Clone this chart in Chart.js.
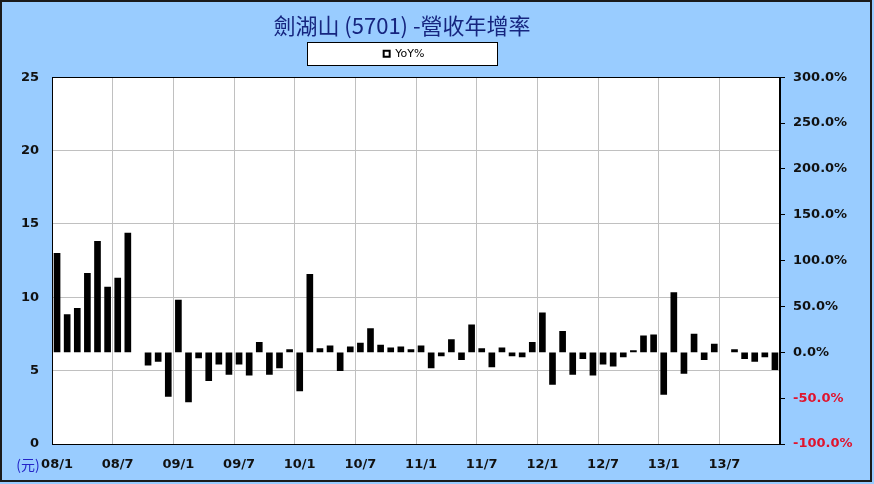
<!DOCTYPE html>
<html>
<head>
<meta charset="utf-8">
<script src="https://cdn.jsdelivr.net/npm/chart.js@4/dist/chart.umd.min.js"></script>
<style>
  html, body { margin: 0; padding: 0; background: #ffffff; }
  canvas { display: block; }
</style>
</head>
<body>
<canvas id="c" width="874" height="484"></canvas>
<script>
// ---- data ----
const months = [
  '08/1','08/2','08/3','08/4','08/5','08/6','08/7','08/8','08/9','08/10','08/11','08/12',
  '09/1','09/2','09/3','09/4','09/5','09/6','09/7','09/8','09/9','09/10','09/11','09/12',
  '10/1','10/2','10/3','10/4','10/5','10/6','10/7','10/8','10/9','10/10','10/11','10/12',
  '11/1','11/2','11/3','11/4','11/5','11/6','11/7','11/8','11/9','11/10','11/11','11/12',
  '12/1','12/2','12/3','12/4','12/5','12/6','12/7','12/8','12/9','12/10','12/11','12/12',
  '13/1','13/2','13/3','13/4','13/5','13/6','13/7','13/8','13/9','13/10','13/11','13/12'
];
// YoY % (right axis)
const yoy = [
  108, 41, 48, 86, 121, 71, 81, 130, null, -14, -10, -48,
  57, -54, -6, -31, -13, -24, -13, -25, 11, -24, -17, 3,
  -42, 85, 4, 7, -20, 6, 10, 26, 8, 5, 6, 3,
  7, -17, -4, 14, -8, 30, 4, -16, 5, -4, -5, 11,
  43, -35, 23, -24, -7, -25, -13, -15, -5, 2, 18, 19,
  -46, 65, -23, 20, -8, 9, null, 3, -7, -10, -5, -19
];
const leftTicks = [0, 5, 10, 15, 20, 25];
const rightTicks = [-100, -50, 0, 50, 100, 150, 200, 250, 300];
const titleText = '劍湖山 (5701) -營收年增率';
const seriesName = 'YoY%';
const unitText = '(元)';

const decor = {
  id: 'decor',
  afterLayout(chart) {
    if (chart.titleBlock) { chart.titleBlock.left = 0; chart.titleBlock.right = 804; }
    if (chart.legend) { chart.legend.left = 0; chart.legend.right = 808; }
  },
  beforeDraw(chart) {
    const ctx = chart.ctx;
    const a = chart.chartArea;
    ctx.save();
    ctx.fillStyle = '#99CCFF';
    ctx.fillRect(0, 0, chart.width, chart.height);
    ctx.strokeStyle = '#1a1a1a';
    ctx.lineWidth = 2;
    ctx.strokeRect(1, 1, 870, 480);
    ctx.fillStyle = '#ffffff';
    ctx.fillRect(a.left, a.top, a.right - a.left, a.bottom - a.top);
    // legend frame
    ctx.fillStyle = '#ffffff';
    ctx.fillRect(307, 42, 190, 23);
    ctx.strokeStyle = '#000000';
    ctx.lineWidth = 1;
    ctx.strokeRect(307.5, 42.5, 190, 23);
    ctx.restore();
  },
  afterDraw(chart) {
    const ctx = chart.ctx;
    const a = chart.chartArea;
    ctx.save();
    ctx.strokeStyle = '#000000';
    ctx.lineWidth = 1;
    ctx.strokeRect(Math.round(a.left) + 0.5, Math.round(a.top) + 0.5,
                   Math.round(a.right - a.left) - 1, Math.round(a.bottom - a.top));
    ctx.fillStyle = '#2424C8';
    ctx.font = '14px "Noto Sans CJK TC"';
    ctx.textAlign = 'center';
    ctx.textBaseline = 'middle';
    ctx.fillText(unitText, 28, 465);
    ctx.restore();
  }
};

new Chart(document.getElementById('c'), {
  type: 'bar',
  data: {
    labels: months,
    datasets: [{
      label: seriesName,
      data: yoy,
      yAxisID: 'y1',
      backgroundColor: '#000000',
      borderColor: '#000000',
      borderWidth: 0,
      barThickness: 6
    }]
  },
  options: {
    responsive: false,
    animation: false,
    devicePixelRatio: 1,
    layout: { padding: 0 },
    plugins: {
      title: {
        display: true,
        text: titleText,
        color: '#16257f',
        font: { family: '"Noto Sans CJK TC"', size: 22, weight: 'normal', lineHeight: 1.1 },
        padding: { top: 14, bottom: 0 }
      },
      legend: {
        display: true,
        position: 'top',
        labels: {
          boxWidth: 6,
          boxHeight: 6,
          padding: 10,
          color: '#000000',
          font: { family: '"DejaVu Sans"', size: 11 },
          generateLabels(chart) {
            const items = Chart.defaults.plugins.legend.labels.generateLabels(chart);
            items.forEach(it => { it.fillStyle = '#ffffff'; it.strokeStyle = '#000000'; it.lineWidth = 2; });
            return items;
          }
        }
      },
      subtitle: {
        display: true,
        text: ' ',
        weight: 500,
        font: { size: 8, lineHeight: 1 },
        padding: 0
      },
      tooltip: { enabled: false }
    },
    scales: {
      x: {
        type: 'category',
        grid: {
          offset: true,
          drawTicks: false,
          color: (ctx) => (ctx.index % 6 === 0 ? '#C0C0C0' : 'rgba(0,0,0,0)')
        },
        border: { display: true, color: '#000000', width: 1 },
        ticks: {
          autoSkip: false,
          maxRotation: 0,
          minRotation: 0,
          padding: 13,
          color: '#111111',
          font: { family: '"DejaVu Sans"', size: 13, weight: 'bold' },
          callback: (val, idx) => (idx % 6 === 0 ? months[idx] : '')
        },
        afterFit: (s) => { s.height = 40; }
      },
      y: {
        position: 'left',
        min: leftTicks[0],
        max: leftTicks[leftTicks.length - 1],
        afterBuildTicks: (s) => { s.ticks = leftTicks.map(v => ({ value: v })); },
        grid: { color: '#C0C0C0', drawTicks: false },
        border: { display: true, color: '#000000', width: 1 },
        ticks: {
          padding: 13,
          color: '#111111',
          font: { family: '"DejaVu Sans"', size: 13, weight: 'bold' }
        },
        afterFit: (s) => { s.width = 52; }
      },
      y1: {
        position: 'right',
        min: rightTicks[0],
        max: rightTicks[rightTicks.length - 1],
        afterBuildTicks: (s) => { s.ticks = rightTicks.map(v => ({ value: v })); },
        grid: { drawOnChartArea: false, drawTicks: true, tickLength: 5, color: '#000000' },
        border: { display: true, color: '#000000', width: 1 },
        ticks: {
          padding: 8,
          font: { family: '"DejaVu Sans"', size: 13, weight: 'bold' },
          color: (ctx) => (ctx.tick && ctx.tick.value < 0 ? '#E0142E' : '#111111'),
          callback: (v) => Number(v).toFixed(1) + '%'
        },
        afterFit: (s) => { s.width = 94; }
      }
    }
  },
  plugins: [decor]
});
</script>
</body>
</html>
